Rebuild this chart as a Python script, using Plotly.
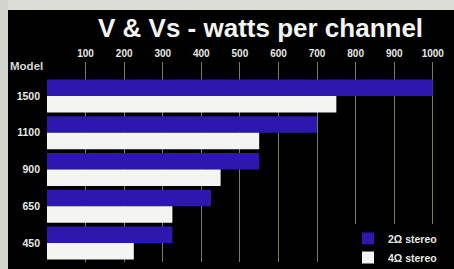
import plotly.graph_objects as go

models = ["1500", "1100", "900", "650", "450"]
watts_2ohm = [1000, 700, 550, 425, 325]
watts_4ohm = [750, 550, 450, 325, 225]
x_ticks = [100, 200, 300, 400, 500, 600, 700, 800, 900, 1000]
series_names = ["2Ω stereo", "4Ω stereo"]
title_text = "V & Vs - watts per channel"

W, H = 454, 269
L, R, T, B = 47, 14, 62, 7
pw, ph = W - L - R, H - T - B

def px_x(p):
    return (p - L) / pw

def px_y(p):
    return (H - B - p) / ph

font_fam = "Liberation Sans, Arial, sans-serif"

fig = go.Figure()
fig.add_trace(go.Bar(
    y=models, x=watts_2ohm, orientation="h", name=series_names[0],
    marker=dict(color="#2c18ae", line=dict(width=0)),
))
fig.add_trace(go.Bar(
    y=models, x=watts_4ohm, orientation="h", name=series_names[1],
    marker=dict(color="#f4f4f0", line=dict(width=0)),
))

fig.update_layout(
    width=W, height=H,
    margin=dict(l=L, r=R, t=T, b=B, pad=0, autoexpand=False),
    paper_bgcolor="#000000",
    plot_bgcolor="#000000",
    barmode="group",
    bargap=0.1,
    bargroupgap=0.0,
    font=dict(family=font_fam, color="#e8e8e4", size=10),
    showlegend=True,
    legend=dict(
        x=px_x(348), y=px_y(272), xanchor="left", yanchor="bottom",
        bgcolor="#000000",
        font=dict(size=10.5, color="#e8e8e4", weight="bold"),
        tracegroupgap=0, itemwidth=30,
    ),
    xaxis=dict(
        side="top", range=[0, pw / 0.3858], tickvals=x_ticks,
        ticktext=[str(v) for v in x_ticks],
        showgrid=True, gridcolor="#7c7c5c", gridwidth=1,
        zeroline=False, showline=False,
        ticks="", tickfont=dict(size=10, color="#e8e8e4", weight="bold"),
        ticklabelstandoff=2,
    ),
    yaxis=dict(
        type="category", categoryorder="array", categoryarray=models,
        range=[4.517, -0.925], showgrid=False, zeroline=False, showline=False,
        ticks="", tickfont=dict(size=10.5, color="#e8e8e4", weight="bold"),
        ticklabelstandoff=6,
    ),
    shapes=[
        dict(type="rect", xref="paper", yref="paper",
             x0=px_x(-5), x1=px_x(W + 5), y0=px_y(10), y1=px_y(-5),
             fillcolor="#dcdcd6", line=dict(width=0), layer="above"),
        dict(type="rect", xref="paper", yref="paper",
             x0=px_x(-5), x1=px_x(8), y0=px_y(H + 5), y1=px_y(-5),
             fillcolor="#d4d4ce", line=dict(width=0), layer="above"),
    ],
    annotations=[
        dict(text=title_text, xref="paper", yref="paper",
             x=px_x(260), y=px_y(28), xanchor="center", yanchor="middle",
             showarrow=False,
             font=dict(size=26, color="#f4f4f0", family=font_fam, weight="bold")),
        dict(text="Model", xref="paper", yref="paper",
             x=px_x(8), y=px_y(66), xanchor="left", yanchor="middle",
             showarrow=False,
             font=dict(size=11.5, color="#d8d8d4", family=font_fam, weight="bold")),
    ],
)

fig.write_html(
    "out.html",
    config={"displayModeBar": False},
    post_script=(
        "document.body.style.margin='0';"
        "document.body.style.overflow='hidden';"
        "document.body.style.background='#000';"
        "document.documentElement.style.background='#000';"
    ),
)
